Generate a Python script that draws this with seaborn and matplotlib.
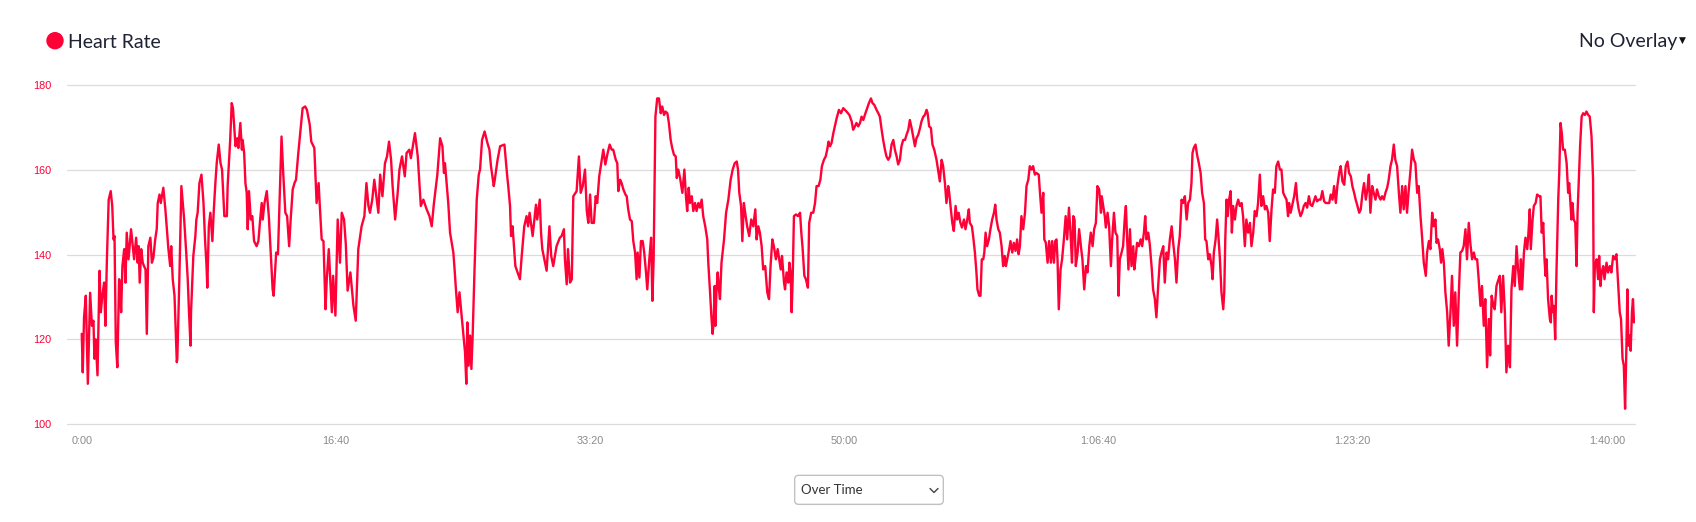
import matplotlib.pyplot as plt
import matplotlib.patches as patches
from matplotlib.lines import Line2D
from matplotlib.ticker import FuncFormatter
import seaborn as sns

# Heart rate samples: elapsed seconds and bpm
time_s = [
    0, 4, 9, 16, 24, 33, 40, 46, 50, 55,
    62, 70, 75, 81, 88, 93, 99, 106, 114, 120,
    125, 129, 134, 140, 147, 151, 155, 160, 167, 172,
    177, 184, 194, 206, 214, 220, 224, 228, 234, 240,
    245, 251, 256, 262, 270, 276, 282, 289, 295, 299,
    306, 311, 321, 329, 335, 341, 348, 352, 358, 365,
    374, 376, 384, 392, 403, 411, 417, 422, 428, 430,
    439, 447, 451, 456, 463, 471, 479, 485, 491, 494,
    500, 506, 514, 519, 525, 531, 539, 546, 552, 561,
    571, 574, 584, 590, 595, 605, 612, 616, 624, 630,
    633, 639, 644, 649, 653, 658, 665, 671, 678, 688,
    695, 702, 708, 712, 719, 728, 736, 746, 751, 755,
    765, 772, 786, 793, 801, 808, 816, 822, 830, 837,
    843, 852, 862, 869, 879, 886, 897, 903, 915, 924,
    932, 936, 944, 951, 959, 964, 972, 984, 989, 998,
    1007, 1016, 1023, 1032, 1039, 1046, 1057, 1069, 1078, 1088,
    1101, 1112, 1120, 1128, 1134, 1143, 1151, 1167, 1174, 1183,
    1193, 1201, 1209, 1217, 1223, 1233, 1243, 1250, 1260, 1271,
    1278, 1289, 1295, 1311, 1322, 1334, 1344, 1357, 1368, 1377,
    1385, 1399, 1410, 1419, 1425, 1429, 1442, 1449, 1462, 1466,
    1473, 1479, 1486, 1495, 1503, 1508, 1513, 1517, 1522, 1528,
    1533, 1538, 1545, 1554, 1562, 1567, 1575, 1585, 1596, 1604,
    1610, 1621, 1625, 1636, 1646, 1663, 1674, 1678, 1685, 1689,
    1695, 1706, 1724, 1731, 1741, 1750, 1756, 1762, 1774, 1787,
    1792, 1802, 1807, 1812, 1829, 1840, 1847, 1855, 1868, 1881,
    1888, 1897, 1901, 1908, 1913, 1921, 1928, 1934, 1947, 1956,
    1963, 1971, 1980, 1987, 1993, 2000, 2006, 2015, 2022, 2028,
    2036, 2044, 2052, 2060, 2069, 2077, 2085, 2091, 2101, 2107,
    2111, 2118, 2124, 2131, 2139, 2144, 2150, 2157, 2164, 2170,
    2177, 2183, 2187, 2194, 2200, 2207, 2213, 2220, 2225, 2233,
    2240, 2245, 2250, 2257, 2264, 2271, 2278, 2284, 2291, 2297,
    2304, 2310, 2317, 2323, 2330, 2337, 2341, 2347, 2354, 2363,
    2371, 2377, 2382, 2388, 2393, 2400, 2406, 2413, 2419, 2426,
    2432, 2439, 2445, 2453, 2461, 2465, 2472, 2477, 2482, 2486,
    2490, 2493, 2497, 2502, 2507, 2511, 2517, 2527, 2535, 2544,
    2553, 2561, 2569, 2577, 2582, 2587, 2594, 2599, 2605, 2612,
    2618, 2626, 2634, 2642, 2650, 2655, 2662, 2668, 2675, 2681,
    2689, 2697, 2704, 2710, 2717, 2723, 2731, 2738, 2744, 2750,
    2755, 2763, 2767, 2773, 2780, 2784, 2789, 2793, 2797, 2802,
    2810, 2818, 2826, 2831, 2836, 2843, 2849, 2857, 2862, 2870,
    2878, 2885, 2891, 2899, 2906, 2912, 2920, 2927, 2933, 2938,
    2944, 2950, 2957, 2963, 2970, 2979, 2987, 2996, 3009, 3020,
    3029, 3035, 3042, 3048, 3055, 3062, 3068, 3075, 3081, 3088,
    3097, 3105, 3111, 3118, 3127, 3134, 3140, 3147, 3153, 3160,
    3166, 3173, 3180, 3186, 3193, 3199, 3206, 3212, 3219, 3225,
    3232, 3239, 3245, 3252, 3258, 3265, 3271, 3278, 3284, 3291,
    3298, 3304, 3311, 3317, 3324, 3328, 3334, 3341, 3347, 3354,
    3363, 3370, 3376, 3383, 3389, 3396, 3402, 3409, 3413, 3418,
    3425, 3431, 3438, 3444, 3450, 3457, 3463, 3471, 3477, 3485,
    3490, 3494, 3502, 3507, 3514, 3520, 3524, 3531, 3536, 3541,
    3547, 3551, 3556, 3562, 3569, 3575, 3582, 3589, 3594, 3599,
    3606, 3612, 3619, 3625, 3631, 3636, 3641, 3649, 3654, 3661,
    3667, 3674, 3680, 3686, 3691, 3697, 3704, 3711, 3717, 3724,
    3730, 3737, 3743, 3750, 3756, 3765,
    3770, 3776, 3783, 3787, 3793, 3800, 3806, 3813, 3818, 3825,
    3830, 3835, 3839, 3844, 3851, 3857, 3864, 3871, 3877, 3884,
    3890, 3896, 3901, 3906, 3911, 3918, 3924, 3931, 3937, 3944,
    3951, 3957, 3964, 3970, 3977, 3983, 3990, 3996, 4003, 4010,
    4013, 4019, 4025, 4029, 4036, 4042, 4049, 4054, 4061, 4067,
    4074, 4079, 4084, 4091, 4097, 4104, 4108, 4113, 4118, 4124,
    4130, 4137, 4141, 4147, 4152, 4159, 4166, 4172, 4179, 4184,
    4189, 4196, 4202, 4210, 4215, 4222, 4228, 4235, 4242, 4248,
    4255, 4261, 4268, 4274, 4281, 4288, 4294, 4301, 4307, 4314,
    4320, 4327, 4333, 4340, 4347, 4353, 4360, 4366, 4370, 4375,
    4382, 4388, 4395, 4402, 4408, 4415, 4420, 4425, 4432, 4438,
    4445, 4449, 4454, 4461, 4467, 4472, 4478, 4484, 4491, 4495,
    4499, 4504, 4509, 4514, 4520, 4525, 4530, 4537, 4543, 4550,
    4556, 4563, 4569, 4576, 4582, 4589, 4596, 4602, 4609, 4615,
    4622, 4628, 4635, 4641, 4648, 4655, 4661, 4668, 4674, 4681,
    4687, 4694, 4700, 4707, 4714, 4720, 4727, 4733, 4740, 4746,
    4750, 4756, 4762, 4770, 4777, 4782, 4788, 4795, 4801, 4808,
    4815, 4821, 4828, 4834, 4841, 4847, 4854, 4860, 4867, 4874,
    4881, 4888, 4894, 4901, 4908, 4914, 4921, 4927, 4934, 4940,
    4947, 4953, 4960, 4967, 4973, 4980, 4986, 4993, 4999, 5006,
    5012, 5019, 5026, 5032, 5039, 5045, 5052, 5058, 5064, 5070,
    5077, 5083, 5090, 5096, 5103, 5110, 5116, 5123, 5129, 5136,
    5142, 5149, 5155, 5162, 5168, 5175, 5182, 5188, 5195, 5201,
    5208, 5214, 5221, 5228, 5234, 5241, 5247, 5254, 5260, 5267,
    5273, 5280, 5288, 5293, 5300, 5306, 5313, 5319, 5326, 5330,
    5336, 5343, 5348, 5353, 5359, 5365, 5372, 5378, 5385, 5391,
    5398, 5404, 5411, 5418, 5424, 5431, 5437, 5444, 5450, 5457,
    5463, 5470, 5477, 5483, 5490, 5496, 5503, 5509, 5516, 5522,
    5529, 5536, 5541, 5547, 5554, 5559, 5566, 5572, 5579, 5585,
    5592, 5599, 5605,
    5612, 5619, 5625, 5632, 5638, 5645, 5651, 5658, 5662, 5667,
    5674, 5680, 5687, 5691, 5697, 5701, 5708, 5713, 5720, 5726,
    5734, 5739, 5744, 5750, 5755, 5759, 5763, 5769, 5776, 5780,
    5783, 5788, 5792, 5797, 5802, 5809, 5813, 5818, 5823, 5828,
    5835, 5842, 5848, 5852, 5857, 5861, 5865, 5870, 5876, 5881,
    5885, 5890, 5895, 5901, 5907, 5914, 5920, 5927, 5933, 5940,
    5946, 5949, 5953, 5960, 5966, 5970, 5975, 5980, 5986, 5991,
    5999, 6005, 6012, 6018, 6025, 6032, 6038, 6045, 6051, 6056,
    6062, 6067, 6072, 6077, 6081, 6085, 6090, 6094, 6099, 6103,
    6107,
]

heart_rate = [
    121.3, 112.2, 125.2, 130.3, 109.5, 131, 123.2, 124.4, 115.4, 120,
    111.5, 136.2, 126.4, 130.3, 133.4, 123.2, 138.9, 153, 155, 151.5,
    143.6, 144.4, 119.3, 113.4, 134.2, 132.6, 126.4, 137.3, 141.3, 133.4,
    145.2, 138.9, 146, 138.9, 144, 138.1, 142, 133.4, 141.3, 138.1,
    137.3, 136.5, 121.3, 142, 144, 138.1, 139.3, 143.6, 146, 152.2,
    154.2, 152.2, 155.8, 150.7, 146, 141.3, 137.3, 142, 134.2, 130.3,
    114.6, 115.4, 134.2, 156.2, 148.3, 140.5, 134.2, 126.4, 118.5, 126.4,
    139.7, 144.4, 148.3, 149.9, 156.9, 158.9, 152.2, 143.6, 137.3, 132.2,
    146.7, 149.9, 143.2, 149.9, 156.2, 161.6, 166, 161.6, 160.1, 149.1,
    149.1, 156.2, 167.1, 175.8, 174.6, 165.6, 167.5, 165.2, 171.1, 164.8,
    167.1, 164, 156.9, 154.6, 146, 155, 148.3, 149.1, 143.2, 142,
    143.2, 148.3, 152.2, 148.3, 152.2, 155, 149.1, 137.3, 131.8, 130.3,
    140.5, 140.1, 167.9, 158.9, 149.9, 149.1, 142, 148.3, 155.4, 156.9,
    157.7, 164, 170.3, 174.6, 175, 174.2, 170.7, 166.7, 165.2, 152.2,
    156.9, 152.2, 143.6, 143.2, 127.1, 134.2, 141.3, 126.4, 135, 125.6,
    148.3, 138.1, 149.9, 148.3, 142.4, 131.5, 135.8, 127.9, 124.4, 141.3,
    146.7, 149.1, 156.9, 151.5, 149.9, 153, 157.7, 149.9, 158.9, 153.8,
    161.6, 163.2, 166.7, 162.4, 156.2, 148.3, 154.6, 160.1, 163.2, 158.5,
    164, 164.8, 162.8, 168.7, 163.2, 151.5, 153, 150.7, 149.1, 146.7,
    151.8, 158.9, 167.5, 165.6, 159.3, 161.6, 152.2, 145.2, 140.5, 137.3,
    131.1, 126.4, 131.1, 125.2, 120, 116.9, 109.5, 124, 113.8, 120.9,
    113, 120.9, 135.8, 153, 158.9, 160.1, 167.1, 169.1, 166.4, 164.8,
    160.9, 156.2, 157.7, 162.4, 165.6, 166, 158.5, 156.2, 151.5, 144.4,
    146.7, 137.3, 134.2, 139.7, 146.7, 149.1, 146.7, 149.9, 144.4, 151.8,
    148.3, 153, 145.2, 141.3, 136.2, 146.7, 139.7, 137.3, 142, 144,
    144.4, 146, 138.9, 133, 141.3, 133.4, 134.2, 153.8, 155, 163.2,
    154.6, 156.2, 160.1, 150.3, 147.5, 154.2, 147.5, 147.5, 153.8, 152.2,
    158.5, 161.6, 164.8, 161.3, 164, 166, 164.8, 164.8, 162.4, 161.6,
    155, 157.7, 156.9, 155.4, 154.2, 153.8, 150.7, 148.3, 147.9, 143.2,
    140.5, 134.2, 140.5, 134.6, 143.2, 143.2, 140.5, 135.8, 131.8, 138.9,
    144, 129.1, 138.9, 172.6, 176.9, 176.9, 173.4, 175, 173, 173.8,
    173.4, 171.1, 167.1, 165.2, 163.6, 163.2, 158.1, 160.1, 158.1, 154.6,
    160.1, 153.8, 150.3, 155.8, 152.2, 153.8, 150.3, 152.2, 150.3, 152.2,
    151.1, 153, 149.1, 146.7, 143.6, 138.1, 131.1, 125.6, 121.3, 124,
    132.6, 123.2, 131.1, 135.8, 131.8, 129.5, 138.1, 143.6, 149.9, 153,
    157.7, 160.1, 161.6, 162, 160.1, 154.6, 151.5, 143.2, 152.2, 149.1,
    146.7, 144.4, 148.3, 146.7, 150.7, 143.6, 146.7, 145.2, 142, 136.5,
    137.3, 131.1, 129.5, 137.3, 143.6, 142, 138.9, 141.3, 138.9, 136.5,
    139.7, 133.4, 131.8, 135.8, 133.4, 138.1, 135.8, 126.4, 134.2, 149.1,
    149.5, 149.1, 149.9, 145.2, 141.6, 135, 134.2, 132.2, 147.5, 149.9,
    149.9, 152.2, 156.2, 156.2, 157.7, 160.9, 162.4, 163.2, 164.8, 166.7,
    165.6, 166.4, 168.7, 170.3, 172.2, 174.2, 173.4, 174.6, 173.8, 173,
    171.5, 169.5, 170.3, 171.1, 170.3, 171.1, 172.6, 171.8, 173, 174.2,
    175.8, 176.9, 175.8, 175.4, 174.2, 173.4, 172.6, 169.5, 167.1, 164.8,
    163.2, 162.4, 163.2, 166, 167.1, 164.8, 163.2, 161.3, 162.4, 165.6,
    167.1, 167.1, 168.3, 169.5, 171.8, 169.9, 167.9, 165.6, 167.5, 168.3,
    169.9, 171.5, 172.6, 173, 174.2, 173.4, 170.3, 169.9, 166, 164.8,
    162.4, 159.7, 157.3, 162.4, 160.9, 156.9, 152.2, 156.2, 154.6, 151.5,
    147.5, 145.6, 151.5, 148.3, 149.9, 147.5, 146.4, 148.3, 146, 148.7,
    150.7, 147.5, 146.7, 144.4, 140.5, 135.8, 131.8, 130.3, 130.3, 138.9,
    138.9, 140.5, 145.2, 142, 143.6, 146, 148.3, 149.9, 151.8, 148.3,
    146, 145.2, 142, 137.3, 139.7, 137.3, 138.9, 141.3, 143.2, 140.5,
    142.8, 140.9, 143.6, 140.1, 142, 149.1, 146, 149.9, 156.2, 157.7,
    160.9, 160.1, 160.9, 158.9, 159.3, 158.9,
    154.6, 149.9, 154.6, 143.6, 142.8, 138.1, 143.2, 138.1, 143.2, 138.1,
    143.2, 143.6, 138.9, 127.1, 136.5, 138.9, 143.6, 149.1, 143.6, 151.1,
    145.2, 138.1, 149.1, 148.3, 137.3, 140.5, 146, 142, 138.9, 131.8,
    137.3, 135.8, 142, 145.2, 142, 146, 147.5, 156.2, 155.4, 149.9,
    153.8, 151.5, 149.1, 146.4, 149.9, 146.7, 137.3, 143.6, 149.9, 145.2,
    144.4, 130.3, 138.9, 140.5, 142, 149.1, 151.5, 143.6, 136.5, 146,
    137.3, 142, 136.5, 139.7, 142.8, 142, 143.6, 142, 145.2, 149.1,
    143.6, 145.2, 142.4, 136.5, 131.8, 129.5, 125.2, 132.6, 138.9, 140.5,
    142, 133.4, 140.5, 138.9, 143.6, 146.7, 142.8, 138.9, 133.4, 141.3,
    144.4, 153, 152.2, 153.8, 148.3, 152.2, 153, 156.9, 164, 165.2,
    166, 163.6, 161.6, 159.3, 154.6, 152.2, 143.6, 143.2, 138.9, 140.1,
    137.3, 134.2, 140.5, 143.6, 148.3, 144.4, 138.9, 131.1, 127.1, 131.1,
    143.6, 153, 149.1, 153, 155, 145.2, 151.5, 148.3, 151.5, 153,
    151.5, 152.2, 149.1, 142, 148.3, 145.2, 147.5, 142, 145.2, 150.3,
    149.1, 152.2, 158.9, 151.5, 153.8, 150.7, 151.5, 149.9, 143.2, 150.7,
    155.4, 154.6, 160.9, 162, 160.1, 160.1, 154.6, 153.8, 153, 149.1,
    152.2, 149.9, 151.5, 153.8, 156.9, 153, 150.7, 149.1, 149.9, 151.5,
    152.2, 151.1, 153.8, 151.8, 151.5, 152.6, 153.8, 152.6, 153, 153,
    155, 152.6, 152.2, 152.2, 152.2, 154.2, 153, 156.2, 152.2, 156.2,
    159.3, 160.9, 157.3, 156.5, 160.9, 162, 159.3, 158.5, 156.2, 154.6,
    153, 151.5, 149.9, 150.7, 154.6, 156.9, 153, 155.4, 158.9, 149.9,
    156.2, 154.6, 153, 155.4, 153.8, 153, 153.8, 153, 154.6, 155.8,
    157.7, 160.9, 162.4, 166, 162.4, 160.9, 154.6, 149.9, 156.2, 150.7,
    156.2, 149.9, 155.4, 160.1, 164.8, 162.4, 161.6, 154.6, 156.2, 149.1,
    144.4, 138.1, 135, 140.5, 143.2, 141.3, 149.9, 146.7, 148.3, 142.8,
    143.6, 141.3, 138.1, 141.3, 138.1, 131.1, 126.4, 118.5, 126.4, 135,
    123.2, 131.1, 118.5, 131.1, 140.5, 140.9, 142, 146, 138.9, 147.5,
    142.8, 138.9, 140.5, 138.9, 138.9, 134.2, 127.9, 132.6, 123.2, 129.5,
    113.4, 124.8, 116.2, 130.3, 127.9, 127.1, 132.6, 133.8, 135, 126.4,
    135, 126.4, 112.2,
    118.5, 113.4, 131.8, 137.3, 132.6, 142, 136.5, 131.8, 138.9, 131.8,
    140.5, 144, 141.3, 144.4, 150.7, 141.3, 148.3, 151.5, 152.2, 154.2,
    153.8, 153.8, 145.2, 147.5, 138.9, 135, 138.9, 129.5, 124.8, 124,
    130.3, 126.4, 127.9, 120, 135.8, 153, 159.3, 171.1, 168.7, 164.8,
    164.8, 161.6, 154.6, 156.9, 152.2, 148.3, 152.2, 148.3, 147.5, 137.3,
    149.9, 157.7, 165.6, 172.6, 173.4, 173, 173.8, 173, 172.6, 167.9,
    157.7, 126.4, 137.3, 138.9, 134.2, 139.7, 132.6, 135.8, 137.3, 134.2,
    138.1, 135.8, 137.3, 135.8, 139.7, 138.9, 140.1, 132.6, 126.4, 124.8,
    115.4, 113.8, 103.6, 117.7, 131.8, 118.5, 120.9, 117.3, 126.4, 129.5,
    124,
]

y_ticks = [100, 120, 140, 160, 180]
x_ticks = [0, 1000, 2000, 3000, 4000, 5000, 6000]

assert len(time_s) == len(heart_rate), (len(time_s), len(heart_rate))

RED = "#ff0037"
W, H = 16.96, 5.22

sns.set_theme(style="white")
plt.rcParams['font.family'] = ['Liberation Sans', 'DejaVu Sans']

fig = plt.figure(figsize=(W, H), dpi=100)
ax = fig.add_axes([67 / 1696, 98 / 522, 1568 / 1696, 338.7 / 522])

sns.lineplot(x=time_s, y=heart_rate, ax=ax, color=RED, linewidth=1.7,
             estimator=None, sort=False)

ax.set_xlim(-58, 6111)
ax.set_ylim(100, 180)
ax.set_yticks(y_ticks)
ax.set_xticks(x_ticks)


def fmt_time(s, _pos=None):
    s = int(round(s))
    h, m, sec = s // 3600, (s % 3600) // 60, s % 60
    if h:
        return f"{h}:{m:02d}:{sec:02d}"
    return f"{m}:{sec:02d}"


ax.xaxis.set_major_formatter(FuncFormatter(fmt_time))
ax.tick_params(axis='y', length=0, pad=11, labelsize=7.8, labelcolor=RED)
ax.tick_params(axis='x', length=0, pad=9, labelsize=7.8, labelcolor="#8a8a8a")

ax.grid(axis='y', color="#dcdcdc", linewidth=0.9)
ax.grid(axis='x', visible=False)
for gl in ax.get_ygridlines():
    gl.set_clip_on(False)
for side in ax.spines.values():
    side.set_visible(False)
ax.set_xlabel("")
ax.set_ylabel("")

# legend-like header
head_font = ['Lato', 'DejaVu Sans']
fig.add_artist(patches.Circle((0.55, (522 - 40.7) / 100), 0.08, color=RED,
                              transform=fig.dpi_scale_trans))
fig.text(68 / 1696, 1 - 47.5 / 522, "Heart Rate", fontsize=14,
         family=head_font, color="#1f2233", va='baseline')
fig.text(1677 / 1696, 1 - 47.5 / 522, "No Overlay", fontsize=14,
         family=head_font, color="#1f2233", ha='right', va='baseline')
fig.text(1682.5 / 1696, 1 - 40.5 / 522, "▼", fontsize=6.5,
         family='DejaVu Sans', color="#111111", ha='center', va='center')

# "Over Time" dropdown under the chart
shadow = patches.FancyBboxPatch((7.947, 0.168), 1.486, 0.29,
                                boxstyle="round,pad=0,rounding_size=0.04",
                                transform=fig.dpi_scale_trans,
                                facecolor="#e6e6e6", edgecolor="none")
box = patches.FancyBboxPatch((7.947, 0.177), 1.486, 0.29,
                             boxstyle="round,pad=0,rounding_size=0.04",
                             transform=fig.dpi_scale_trans,
                             facecolor="white", edgecolor="#bdbdbd",
                             linewidth=0.9)
fig.add_artist(shadow)
fig.add_artist(box)
fig.text(8.01 / W, 0.318 / H, "Over Time", fontsize=9.5,
         family=head_font, color="#333333", va='center')
fig.add_artist(Line2D([9.30, 9.34, 9.38], [0.335, 0.295, 0.335],
                      transform=fig.dpi_scale_trans, color="#444444",
                      linewidth=1.0))

fig.savefig("out.png", dpi=100)
plt.close(fig)
